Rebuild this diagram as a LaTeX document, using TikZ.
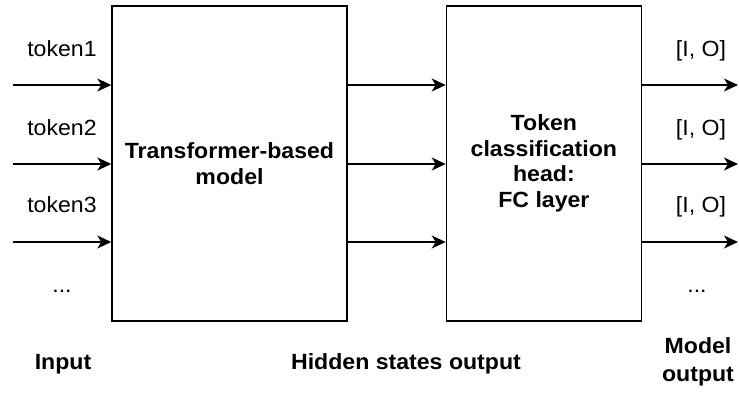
\documentclass[tikz,border=0pt]{standalone}
\usepackage{fontspec}
\setmainfont{Liberation Sans}[FakeStretch=1.05]
\usepackage{tikz}
\usetikzlibrary{arrows.meta, positioning}

\begin{document}
\begin{tikzpicture}[
    x = 1pt, y = -1pt,
    node distance = 98pt,
    punkt/.style = {rectangle, draw, line width=1.4pt, minimum height=315pt,
                    align=center, font=\bfseries\fontsize{22}{25.5}\selectfont},
    pil/.style = {black, line width=1.4pt, -{Stealth[length=14pt, width=13pt, inset=4pt]}},
    txt/.style = {anchor=base, inner sep=0pt, font=\fontsize{22}{26}\selectfont},
    fat/.style = {txt, font=\bfseries\fontsize{22}{28}\selectfont}
    ]
  \useasboundingbox (0,0) rectangle (739,392);

  \node[punkt, minimum width=235pt] (model) at (229.5,163.5) {Transformer-based\\model};
  \node[punkt, minimum width=195pt] (head) [right=of model] {Token\\classification\\head:\\FC layer};

  % tokens going in
  \node[txt] (tok1) at (62,56) {token1};
  \node[txt] (tok2) at (62,135) {token2};
  \node[txt] (tok3) at (62,212) {token3};
  \node[txt] (tokdots) at (62,292) {...};

  % labels coming out
  \node[txt] (io1) at (701,56) {[I, O]};
  \node[txt] (io2) at (701,135) {[I, O]};
  \node[txt] (io3) at (701,212) {[I, O]};
  \node[txt] (iodots) at (697,292) {...};

  \node[fat] (input) at (63,369) {Input};
  \node[fat] (hidden) at (406,369) {Hidden states output};
  \node[fat, anchor=center, align=center] (output) at (698,362) {Model\\output};

  \coordinate (in1) at (13,85);
  \coordinate (in2) at (13,164);
  \coordinate (in3) at (13,242);
  \coordinate (out1) at (738,85);
  \coordinate (out2) at (738,164);
  \coordinate (out3) at (738,242);

  \path[pil]
  (in1) edge (in1 -| model.west)
  (in2) edge (in2 -| model.west)
  (in3) edge (in3 -| model.west)

  (model.east |- in1) edge (head.west |- in1)
  (model.east |- in2) edge (head.west |- in2)
  (model.east |- in3) edge (head.west |- in3)

  (head.east |- in1) edge (out1)
  (head.east |- in2) edge (out2)
  (head.east |- in3) edge (out3);
\end{tikzpicture}
\end{document}
